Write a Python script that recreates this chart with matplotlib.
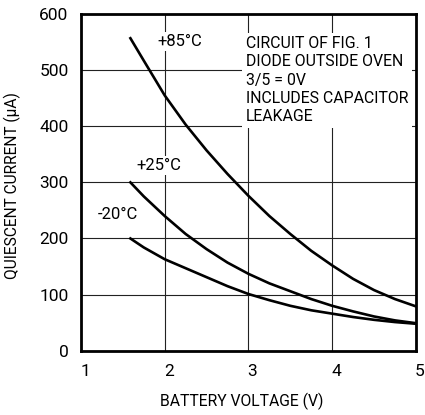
import matplotlib
matplotlib.use("Agg")
import matplotlib.pyplot as plt
from matplotlib.transforms import ScaledTranslation

# no narrow Helvetica here, Roboto is the slimmest of the installed sans faces
plt.rcParams['font.family'] = ['Roboto', 'DejaVu Sans']

# battery voltage (V) and quiescent current (uA)
v85 = [1.59, 1.75, 2.0, 2.25, 2.5, 2.75, 3.0, 3.25, 3.5, 3.75, 4.0, 4.25, 4.5, 4.75, 5.0]
i85 = [557, 517, 455, 403, 357, 315, 276, 240, 208, 178, 152, 128, 108, 92, 79]

v25 = [1.59, 1.75, 2.0, 2.25, 2.5, 2.75, 3.0, 3.25, 3.5, 3.75, 4.0, 4.25, 4.5, 4.75, 5.0]
i25 = [300, 275, 240, 208, 181, 157, 137, 120, 106, 92, 80, 70, 61, 54, 49]

vm20 = [1.59, 1.75, 2.0, 2.25, 2.5, 2.75, 3.0, 3.25, 3.5, 3.75, 4.0, 4.25, 4.5, 4.75, 5.0]
im20 = [200, 184, 163, 147, 131, 115, 101, 90, 80, 72, 66, 60, 55, 51, 48]

xticks = [1, 2, 3, 4, 5]
yticks = [0, 100, 200, 300, 400, 500, 600]

fig = plt.figure(figsize=(4.25, 4.15), dpi=100)
ax = fig.add_axes([0.1906, 0.155, 0.788, 0.811])

for v, i in [(v85, i85), (v25, i25), (vm20, im20)]:
    ax.plot(v, i, color='black', lw=1.9, zorder=3)

ax.set_xlim(1, 5)
ax.set_ylim(0, 600)
ax.set_xticks(xticks)
ax.set_yticks(yticks)
ax.grid(True, color='#222222', lw=0.8)
ax.set_axisbelow(True)
ax.tick_params(length=0, colors='black', labelsize=12.5)
ax.tick_params(axis='x', pad=9.5)
ax.tick_params(axis='y', pad=9)
for lab in ax.get_xticklabels():
    lab.set_transform(lab.get_transform() + ScaledTranslation(4 / 100, 0, fig.dpi_scale_trans))
for s in ax.spines.values():
    s.set_linewidth(2)
    s.set_zorder(5)

ax.set_xlabel('BATTERY VOLTAGE (V)', fontsize=11.3)
ax.xaxis.set_label_coords(0.48, -0.125)
ax.set_ylabel('QUIESCENT CURRENT (µA)', fontsize=11.2)
ax.yaxis.set_label_coords(-0.178, 0.49)

box = dict(facecolor='white', edgecolor='none', pad=1.5)
ax.text(1.907, 551, '+85°C', fontsize=12, va='center', ha='left', bbox=box, zorder=4)
ax.text(1.665, 331, '+25°C', fontsize=12, va='center', ha='left', bbox=box, zorder=4)
ax.text(1.20, 242, '-20°C', fontsize=12, va='center', ha='left', bbox=box, zorder=4)
ax.text(2.97, 561, 'CIRCUIT OF FIG. 1\nDIODE OUTSIDE OVEN\n3/5 = 0V\nINCLUDES CAPACITOR\nLEAKAGE',
        fontsize=11.4, va='top', ha='left', linespacing=1.28,
        bbox=dict(facecolor='white', edgecolor='none', pad=2.5), zorder=4)

fig.savefig('out.png', dpi=100)
